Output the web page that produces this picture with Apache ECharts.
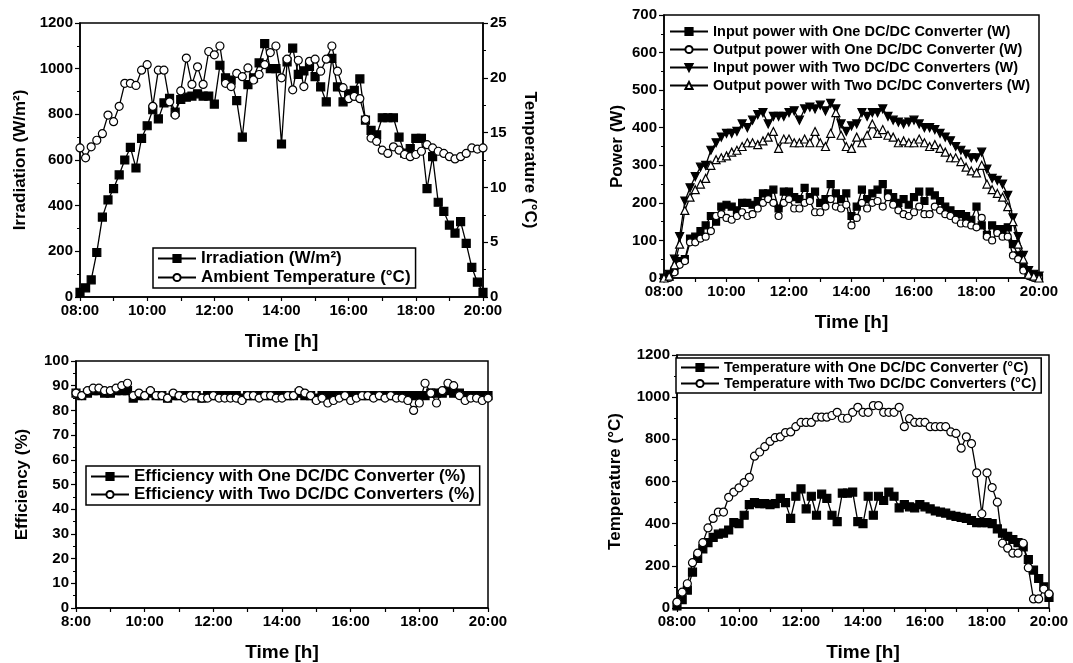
<!DOCTYPE html>
<html>
<head>
<meta charset="utf-8">
<script src="https://cdn.jsdelivr.net/npm/echarts@6/dist/echarts.min.js"></script>
<style>
    html, body {margin: 0; padding: 0; background: #fff;}
    #chart {width: 1073px; height: 663px;}
</style>
</head>
<body>
<div id="chart"></div>
<script>
    // time stamps, every 10 minutes from 08:00 to 20:00
    const times = [];
    for (let m = 8 * 60; m <= 20 * 60; m += 10) {
        times.push(String(Math.floor(m / 60)).padStart(2, '0') + ':' + String(m % 60).padStart(2, '0'));
    }

    // (a) irradiation and ambient temperature
    const irradiation = [20, 40, 75, 195, 350, 425, 475, 535, 600, 655, 565, 695, 750, 820, 780, 850, 870, 810, 865, 875,
        880, 890, 880, 880, 845, 1015, 960, 950, 860, 700, 930, 960, 1025, 1110, 1000, 1000, 670, 1030, 1090, 975,
        990, 1010, 965, 920, 855, 1045, 920, 855, 890, 905, 955, 775, 730, 710, 785, 785, 785, 700, 630, 650,
        695, 695, 475, 615, 415, 375, 315, 280, 330, 235, 130, 65, 20];
    const ambientTemp = [13.6, 12.7, 13.7, 14.3, 14.9, 16.6, 16.0, 17.4, 19.5, 19.5, 19.3, 20.7, 21.2, 17.4, 20.7, 20.7, 17.8, 16.6, 18.8, 21.8,
        19.4, 21.0, 19.4, 22.4, 22.1, 22.9, 19.5, 19.2, 20.4, 20.1, 20.9, 19.8, 20.3, 21.2, 22.3, 22.9, 20.0, 21.7, 18.9, 21.6,
        19.2, 21.5, 21.7, 20.6, 21.7, 22.9, 20.6, 19.1, 18.1, 18.3, 18.1, 16.2, 14.5, 14.2, 13.4, 13.1, 13.7, 13.4, 13.0, 12.8,
        13.0, 13.3, 13.9, 13.6, 13.3, 13.1, 12.8, 12.6, 12.8, 13.1, 13.6, 13.5, 13.6];

    // (b) power
    const inPowerOne = [0, 5, 20, 45, 50, 105, 110, 125, 140, 165, 150, 190, 195, 190, 180, 200, 200, 195, 205, 225,
        225, 235, 185, 230, 230, 215, 210, 240, 215, 230, 200, 210, 250, 225, 210, 225, 165, 190, 235, 210,
        225, 235, 250, 225, 215, 200, 210, 195, 215, 230, 205, 230, 220, 205, 190, 180, 170, 170, 165, 155,
        190, 140, 115, 140, 130, 130, 135, 90, 60, 30, 10, 5, 0];
    const outPowerOne = [0, 0, 15, 35, 45, 95, 95, 105, 110, 125, 165, 170, 160, 155, 165, 175, 165, 170, 185, 200,
        210, 200, 165, 200, 210, 185, 185, 200, 205, 175, 175, 190, 210, 190, 185, 195, 140, 160, 200, 185,
        200, 205, 190, 215, 195, 180, 170, 165, 175, 190, 170, 170, 190, 180, 170, 165, 155, 145, 145, 140,
        135, 160, 110, 100, 120, 110, 110, 60, 50, 20, 5, 0, 0];
    const inPowerTwo = [0, 10, 50, 110, 205, 240, 270, 295, 300, 340, 360, 375, 385, 385, 390, 410, 400, 420, 435, 440,
        410, 430, 430, 430, 440, 445, 420, 450, 455, 450, 460, 445, 465, 450, 410, 390, 405, 410, 440, 430,
        440, 440, 450, 430, 420, 415, 410, 415, 420, 410, 400, 400, 395, 385, 375, 365, 350, 340, 330, 320,
        320, 335, 290, 265, 260, 250, 220, 160, 110, 60, 20, 10, 5];
    const outPowerTwo = [0, 5, 35, 90, 180, 215, 235, 250, 265, 300, 315, 320, 325, 335, 340, 350, 360, 360, 355, 365,
        375, 390, 345, 370, 370, 360, 360, 370, 360, 390, 360, 350, 385, 440, 380, 350, 345, 375, 360, 380,
        410, 385, 395, 380, 375, 360, 365, 360, 360, 370, 360, 350, 355, 345, 335, 320, 320, 310, 295, 285,
        280, 300, 250, 235, 225, 215, 190, 150, 90, 50, 10, 5, 0];

    // (c) efficiency
    const effOne = [87, 86, 87, 88, 88, 87, 87, 88, 88, 88, 85, 86, 86, 87, 86, 86, 85, 86, 86, 86,
        86, 86, 85, 86, 86, 86, 86, 86, 86, 85, 86, 86, 86, 86, 86, 86, 86, 86, 86, 87,
        86, 86, 85, 86, 86, 86, 86, 86, 86, 86, 86, 86, 86, 86, 86, 86, 86, 86, 86, 86,
        86, 86, 87, 87, 87, 88, 87, 87, 86, 86, 86, 86, 86];
    const effTwo = [87, 86, 88, 89, 89, 88, 88, 89, 90, 91, 86, 87, 86, 88, 86, 86, 85, 87, 86, 85,
        86, 86, 85, 85, 86, 85, 85, 85, 85, 84, 86, 86, 85, 86, 86, 85, 85, 86, 86, 88,
        87, 86, 84, 85, 83, 84, 85, 86, 84, 85, 86, 86, 85, 86, 85, 86, 85, 85, 84, 80,
        83, 91, 87, 83, 88, 91, 90, 86, 84, 85, 85, 84, 85];

    // (d) converter temperature
    const tempOne = [10, 40, 85, 170, 235, 280, 310, 335, 350, 355, 370, 405, 400, 440, 490, 500, 495, 495, 490, 495,
        520, 500, 425, 530, 565, 470, 530, 440, 540, 520, 440, 410, 545, 545, 550, 410, 400, 530, 440, 530,
        510, 550, 530, 475, 490, 480, 475, 490, 480, 470, 460, 455, 450, 440, 435, 430, 425, 415, 405, 405,
        405, 400, 375, 355, 340, 325, 310, 290, 230, 180, 140, 100, 50];
    const tempTwo = [28, 75, 115, 215, 260, 310, 380, 425, 455, 455, 525, 550, 570, 595, 620, 720, 740, 765, 790, 808,
        812, 832, 835, 860, 880, 880, 880, 905, 905, 905, 913, 928, 900, 900, 928, 952, 928, 928, 960, 960,
        928, 928, 928, 952, 860, 898, 880, 880, 880, 860, 860, 860, 860, 835, 828, 758, 812, 780, 641, 447,
        641, 571, 502, 307, 284, 260, 260, 307, 191, 43, 43, 90, 67];

    const FONT = 'Liberation Sans';
    const DOWN = 'path://M0,0 L10,0 L5,9 Z';

    const chart = echarts.init(document.getElementById('chart'));

    const grid = (left, top, width, height) => ({
        left, top, width, height, show: true, borderColor: '#000', borderWidth: 1.5
    });

    const xAxis = (gridIndex, fmt) => ({
        type: 'category', gridIndex, data: times, boundaryGap: false,
        name: 'Time [h]', nameLocation: 'middle', nameGap: 35,
        nameTextStyle: {fontFamily: FONT, fontWeight: 'bold', fontSize: 19, color: '#000'},
        axisLine: {lineStyle: {color: '#000', width: 1.5}},
        axisTick: {interval: 5, length: 4, lineStyle: {color: '#000', width: 1.2}},
        axisLabel: {interval: 11, color: '#000', fontFamily: FONT, fontWeight: 'bold', fontSize: 15, margin: 6, formatter: fmt},
        splitLine: {show: false}
    });

    const yAxis = (gridIndex, max, interval, name, gap, extra) => Object.assign({
        type: 'value', gridIndex, min: 0, max, interval,
        name, nameLocation: 'middle', nameGap: gap,
        nameTextStyle: {fontFamily: FONT, fontWeight: 'bold', fontSize: 17, color: '#000'},
        axisLine: {show: true, lineStyle: {color: '#000', width: 1.5}},
        axisTick: {show: true, length: 5, lineStyle: {color: '#000', width: 1.2}},
        minorTick: {show: true, splitNumber: 2, length: 3, lineStyle: {color: '#000', width: 1}},
        axisLabel: {color: '#000', fontFamily: FONT, fontWeight: 'bold', fontSize: 15, margin: 7, formatter: v => String(v)},
        splitLine: {show: false}
    }, extra || {});

    const S = (name, data, xIdx, yIdx, symbol, filled, size) => ({
        name, type: 'line', data, xAxisIndex: xIdx, yAxisIndex: yIdx,
        symbol, symbolSize: size, showAllSymbol: true,
        lineStyle: {color: '#000', width: 1.3},
        itemStyle: {color: filled ? '#000' : '#fff', borderColor: '#000', borderWidth: 1.2},
        emphasis: {disabled: true}
    });

    const legend = (left, top, names, fontSize, bordered, gap) => ({
        left, top, orient: 'vertical', data: names, itemGap: gap, itemWidth: 38, itemHeight: 9,
        borderColor: bordered ? '#000' : 'transparent', borderWidth: bordered ? 1.5 : 0,
        padding: [2, 5, 2, 4], backgroundColor: bordered ? '#fff' : 'transparent',
        textStyle: {fontFamily: FONT, fontWeight: 'bold', fontSize, color: '#000'},
        selectedMode: false
    });

    const hh = v => v;
    const h = v => v.replace(/^0/, '');

    chart.setOption({
        animation: false,
        backgroundColor: '#fff',
        grid: [grid(80, 23, 403, 274), grid(664, 15, 375, 263), grid(76, 361, 412, 252), grid(677, 355, 372, 258)],
        xAxis: [xAxis(0, hh), xAxis(1, hh), xAxis(2, h), xAxis(3, hh)],
        yAxis: [
            yAxis(0, 1200, 200, 'Irradiation (W/m²)', 51),
            yAxis(0, 25, 5, 'Temperature (°C)', 38, {position: 'right', nameRotate: -90}),
            yAxis(1, 700, 100, 'Power (W)', 38),
            yAxis(2, 100, 10, 'Efficiency (%)', 45),
            yAxis(3, 1200, 200, 'Temperature (°C)', 53)
        ],
        legend: [
            legend(153, 248, ['Irradiation (W/m²)', 'Ambient Temperature (°C)'], 17, true, 2),
            legend(665, 22, ['Input power with One DC/DC Converter (W)', 'Output power with One DC/DC Converter (W)',
                'Input power with Two DC/DC Converters (W)', 'Output power with Two DC/DC Converters (W)'], 14.5, false, 3),
            legend(86, 466, ['Efficiency with One DC/DC Converter (%)', 'Efficiency with Two DC/DC Converters (%)'], 17, true, 1),
            legend(676, 358, ['Temperature with One DC/DC Converter (°C)', 'Temperature with Two DC/DC Converters (°C)'], 14.5, true, 1)
        ],
        series: [
            S('Irradiation (W/m²)', irradiation, 0, 0, 'rect', true, 8),
            S('Ambient Temperature (°C)', ambientTemp, 0, 1, 'circle', false, 8),
            S('Input power with One DC/DC Converter (W)', inPowerOne, 1, 2, 'rect', true, 7),
            S('Output power with One DC/DC Converter (W)', outPowerOne, 1, 2, 'circle', false, 7),
            S('Input power with Two DC/DC Converters (W)', inPowerTwo, 1, 2, DOWN, true, 8),
            S('Output power with Two DC/DC Converters (W)', outPowerTwo, 1, 2, 'triangle', false, 8),
            S('Efficiency with One DC/DC Converter (%)', effOne, 2, 3, 'rect', true, 8),
            S('Efficiency with Two DC/DC Converters (%)', effTwo, 2, 3, 'circle', false, 8),
            S('Temperature with One DC/DC Converter (°C)', tempOne, 3, 4, 'rect', true, 8),
            S('Temperature with Two DC/DC Converters (°C)', tempTwo, 3, 4, 'circle', false, 8)
        ]
    });
</script>
</body>
</html>
